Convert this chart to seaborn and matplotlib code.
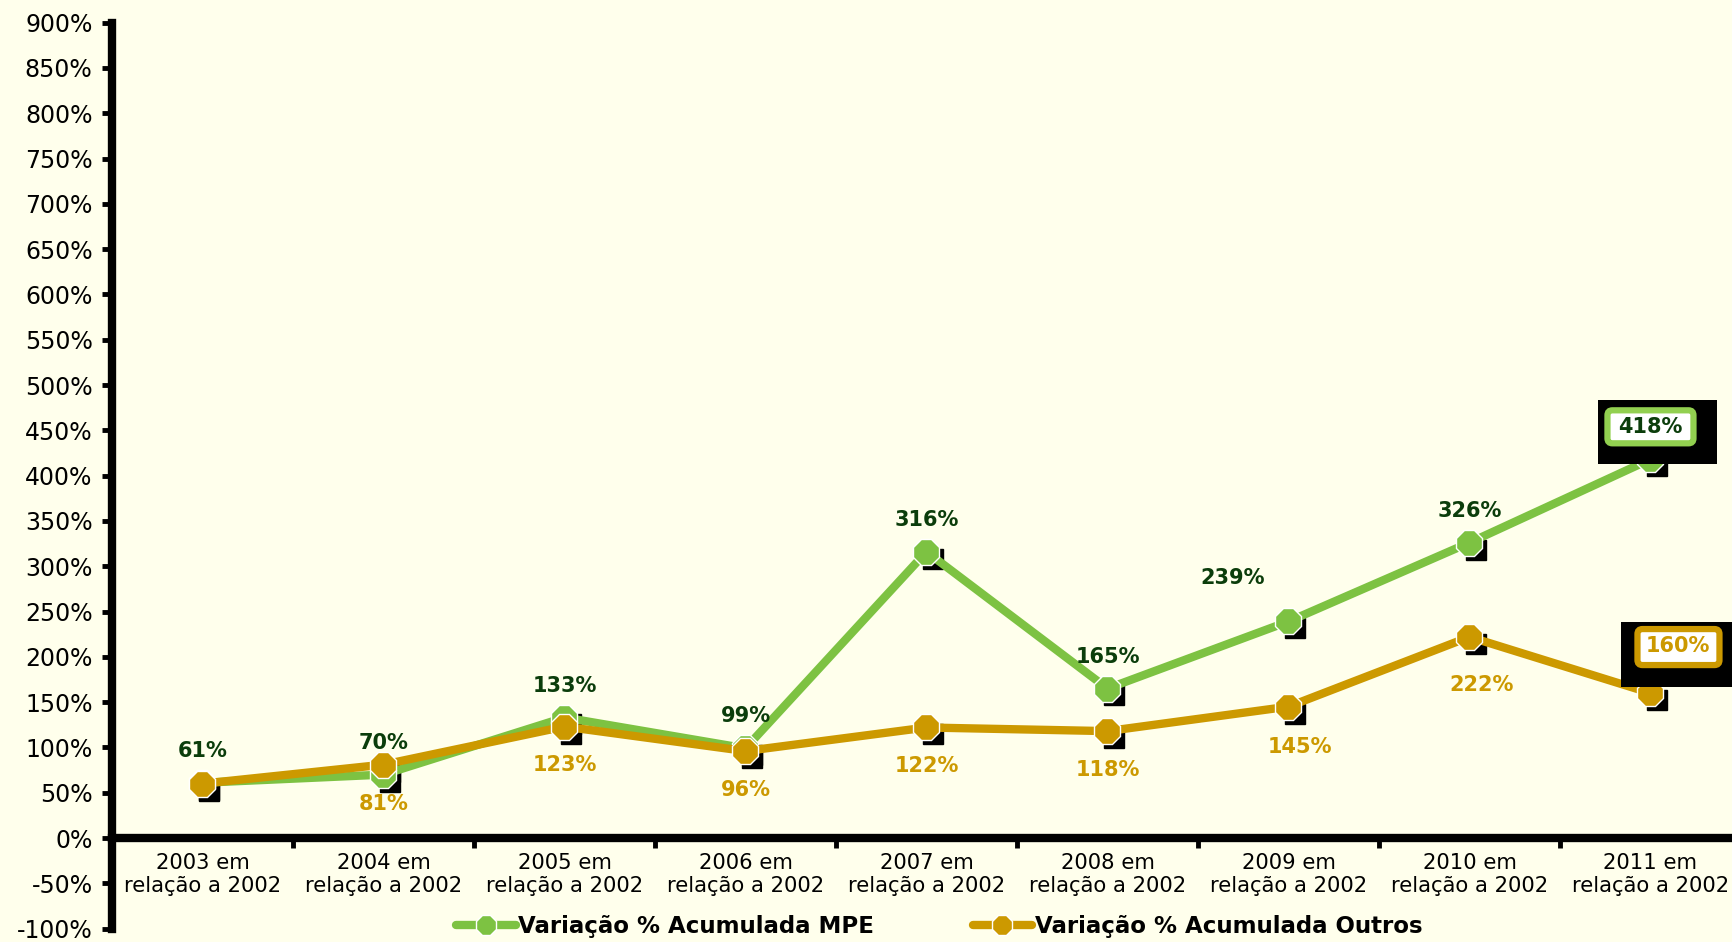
import numpy as np
import pandas as pd
import matplotlib
matplotlib.use("Agg")
import matplotlib.pyplot as plt
import matplotlib.transforms as mtransforms
from matplotlib.lines import Line2D
from matplotlib.patches import Rectangle, FancyBboxPatch
import seaborn as sns

# ---------------- data ----------------
categories = ["2003 em\nrelação a 2002", "2004 em\nrelação a 2002", "2005 em\nrelação a 2002",
              "2006 em\nrelação a 2002", "2007 em\nrelação a 2002", "2008 em\nrelação a 2002",
              "2009 em\nrelação a 2002", "2010 em\nrelação a 2002", "2011 em\nrelação a 2002"]
mpe = [61, 70, 133, 99, 316, 165, 239, 326, 418]
outros = [60, 81, 123, 96, 122, 118, 145, 222, 160]
mpe_labels = ["61%", "70%", "133%", "99%", "316%", "165%", "239%", "326%", "418%"]
outros_labels = ["", "81%", "123%", "96%", "122%", "118%", "145%", "222%", "160%"]
series_names = ["Variação % Acumulada MPE", "Variação % Acumulada Outros"]
yticks = list(range(-100, 901, 50))

# ---------------- style ----------------
BG = "#FFFFEC"
GREEN = "#7DC242"
GREEN_BOX = "#92D050"
GOLD = "#CC9900"
DARKGREEN = "#0B3D0B"

sns.set_theme(style="white")
plt.rcParams["font.family"] = ["DejaVu Sans"]
plt.rcParams["text.color"] = "black"

fig = plt.figure(figsize=(17.33, 9.42), dpi=100, facecolor=BG)
ax = fig.add_axes([0.0646, 0.0142, 0.94, 0.9618])
ax.set_facecolor(BG)

n = len(categories)
df = pd.DataFrame({"x": np.arange(n), "MPE": mpe, "Outros": outros})

# marker shadows (black squares offset to bottom-right)
shadow = mtransforms.offset_copy(ax.transData, fig=fig, x=4.5, y=-5, units="points")
for col in ["MPE", "Outros"]:
    ax.plot(df["x"], df[col], "s", ms=15, color="black", transform=shadow, zorder=2)

sns.lineplot(data=df, x="x", y="MPE", color=GREEN, lw=6, marker="8", ms=20,
             mec="white", mew=1, ax=ax, zorder=3, legend=False)
sns.lineplot(data=df, x="x", y="Outros", color=GOLD, lw=6, marker="8", ms=20,
             mec="white", mew=1, ax=ax, zorder=4, legend=False)

ax.set_xlim(-0.5, n - 0.5)
ax.set_ylim(-100, 900)
ax.set_xlabel("")
ax.set_ylabel("")

for s in ["top", "right"]:
    ax.spines[s].set_visible(False)
for s in ["left", "bottom"]:
    ax.spines[s].set_linewidth(6)
    ax.spines[s].set_color("black")
ax.spines["bottom"].set_position(("data", 0))
ax.spines["bottom"].set_zorder(1)

ax.set_yticks(yticks)
ax.set_yticklabels([f"{t}%" for t in yticks], fontsize=17, color="black")
ax.tick_params(axis="y", direction="out", length=7, width=3.5, pad=7, color="black", left=True)

ax.set_xticks(np.arange(n))
ax.set_xticklabels(categories, fontsize=15.2, color="black", linespacing=1.15)
ax.tick_params(axis="x", which="major", length=0, pad=11)
ax.set_xticks(np.arange(0.5, n - 0.5, 1), minor=True)
ax.tick_params(axis="x", which="minor", length=7.5, width=3.5, direction="out",
               color="black", bottom=True)
ax.grid(False)

# ---------------- data labels ----------------
mpe_off = [(0, 23)] * n
mpe_off[6] = (-40, 31)
mpe_off[8] = (0, 23)
out_off = [(0, -28)] * n
out_off[6] = (8, -29)
out_off[7] = (9, -35)
out_off[8] = (20, 34)

def point_frame(x, y):
    # inches relative to a data point
    return fig.dpi_scale_trans + mtransforms.ScaledTranslation(x, y, ax.transData)

def boxed(txt, x, y, off, color, edge, black_box, frame_box):
    tr = point_frame(x, y)
    bx, by, bw, bh = black_box
    ax.add_patch(Rectangle((bx, by), bw, bh, transform=tr, fc="black", ec="none",
                           zorder=6, clip_on=False))
    fx, fy, fw, fh = frame_box
    ax.add_patch(FancyBboxPatch((fx, fy), fw, fh, transform=tr,
                                boxstyle="round,pad=0,rounding_size=0.05",
                                fc="white", ec=edge, lw=4.5, zorder=7, clip_on=False))
    ax.annotate(txt, (x, y), xytext=off, textcoords="offset points",
                ha="center", va="center", fontsize=15, fontweight="bold", color=color,
                zorder=8, annotation_clip=False)

for i in range(n):
    if i == n - 1:
        boxed(mpe_labels[i], i, mpe[i], mpe_off[i], DARKGREEN, GREEN_BOX,
              (-0.52, -0.05, 1.19, 0.64), (-0.43, 0.16, 0.86, 0.33))
        boxed(outros_labels[i], i, outros[i], out_off[i], GOLD, GOLD,
              (-0.29, 0.06, 1.20, 0.65), (-0.13, 0.28, 0.82, 0.36))
        continue
    ax.annotate(mpe_labels[i], (i, mpe[i]), xytext=mpe_off[i], textcoords="offset points",
                ha="center", va="center", fontsize=15, fontweight="bold", color=DARKGREEN, zorder=5)
    if outros_labels[i]:
        ax.annotate(outros_labels[i], (i, outros[i]), xytext=out_off[i], textcoords="offset points",
                    ha="center", va="center", fontsize=15, fontweight="bold", color=GOLD, zorder=5)

# ---------------- legend ----------------
handles = [Line2D([], [], color=GREEN, lw=6, marker="8", ms=16, mec="white", mew=1),
           Line2D([], [], color=GOLD, lw=6, marker="8", ms=16, mec="white", mew=1)]
fig.legend(handles, series_names, loc="center", bbox_to_anchor=(0.542, 0.016), ncol=2,
           frameon=False, handlelength=2.6, handletextpad=0.1, columnspacing=4.3,
           labelcolor="black", prop=dict(size=16.5, weight="bold"))

fig.savefig("out.png", dpi=100, facecolor=BG)
